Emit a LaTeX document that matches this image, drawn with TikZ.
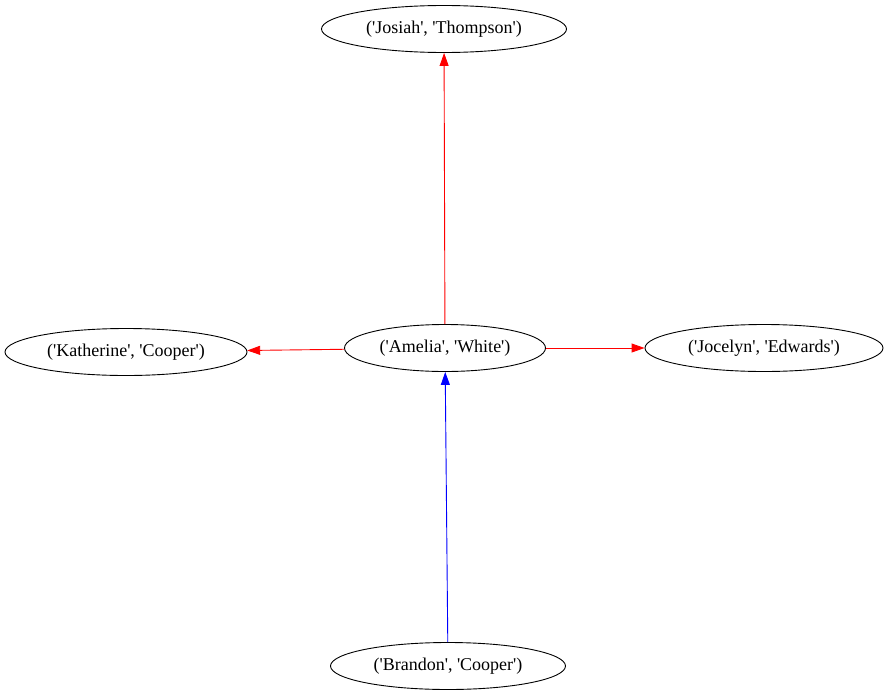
\documentclass[tikz,border=0pt]{standalone}
\usepackage{fontspec}
\setmainfont{Liberation Serif}[Ligatures=TeXOff]
\usetikzlibrary{shapes.geometric,arrows.meta}
\begin{document}
\begin{tikzpicture}[x=1pt,y=-1pt,line width=0.9pt,
  person/.style={draw,ellipse,inner sep=0pt,minimum height=47pt,font=\fontsize{18pt}{20pt}\selectfont},
  rededge/.style={red,-{Triangle[length=13pt,width=9pt]}},
  blueedge/.style={blue,-{Triangle[length=13pt,width=9pt]}}]
\useasboundingbox (0,0) rectangle (888,696);
% Personnes
\node[person,minimum width=245pt] (josiah) at (444,29) {('Josiah', 'Thompson')};
\node[person,minimum width=201pt] (amelia) at (445,348) {('Amelia', 'White')};
\node[person,minimum width=242pt] (katherine) at (126,352) {('Katherine', 'Cooper')};
\node[person,minimum width=238pt] (jocelyn) at (764,348) {('Jocelyn', 'Edwards')};
\node[person,minimum width=235pt] (brandon) at (448,666) {('Brandon', 'Cooper')};
% Liens
\draw[rededge] (amelia) -- (josiah);
\draw[rededge] (amelia) -- (katherine);
\draw[rededge] (amelia) -- (jocelyn);
\draw[blueedge] (brandon) -- (amelia);
\end{tikzpicture}
\end{document}
